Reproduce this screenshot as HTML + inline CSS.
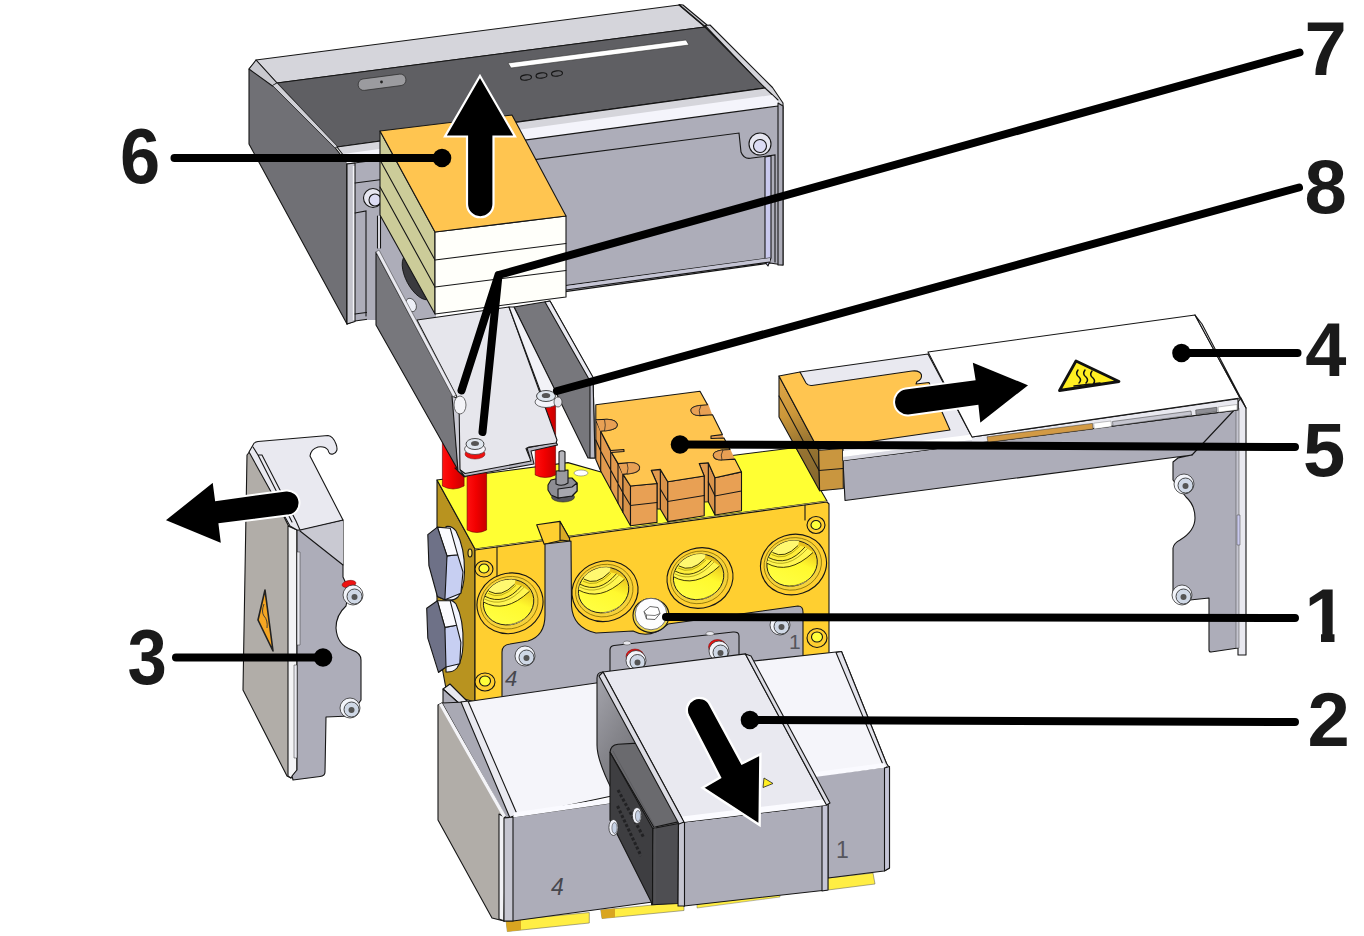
<!DOCTYPE html>
<html lang="en">
<head>
<meta charset="utf-8">
<title>Exploded view</title>
<style>
html,body{margin:0;padding:0;background:#fff;}
body{width:1364px;height:936px;overflow:hidden;}
svg{display:block;}
.o{stroke:#161616;stroke-width:1.1;stroke-linejoin:round;}
.l{fill:none;stroke:#161616;stroke-width:1.1;stroke-linecap:round;}
.lead{fill:none;stroke:#000;stroke-width:8;stroke-linecap:round;stroke-linejoin:round;}
.num{font-family:"Liberation Sans",sans-serif;font-weight:bold;font-size:76px;fill:#1a1a1a;}
.sm{font-family:"Liberation Sans",sans-serif;font-size:17px;fill:#55555c;}
</style>
</head>
<body>
<svg width="1364" height="936" viewBox="0 0 1364 936">
<rect width="1364" height="936" fill="#fff"/>
<g id="topbox">
<!-- left face -->
<polygon class="o" fill="#707075" points="249,69 256,61 272.5,85 335,147.5 347,163 347,324 249,144"/>
<!-- top bevel light -->
<polygon class="o" fill="#d5d5db" points="256,60 679,5 705,27 277,83"/>
<polygon class="o" fill="#c9c9cf" points="249,69 256,60 277,83 272.5,86"/>
<!-- right rim -->
<polygon class="o" fill="#c9c9cf" points="679,4.5 683,5 707,25 705,26.5"/>
<polygon class="o" fill="#d5d5db" points="705,25.5 710,25 772.5,87.5 783,103 783,108 778,104 765,88.5"/>
<!-- dark top -->
<polygon class="o" fill="#5f5f63" points="277,83 705,27 765,88 337,147"/>
<polygon fill="#d0d0d6" stroke="#222" stroke-width="0.7" points="272.5,85.5 277,83 337.5,146.5 335,148"/>
<!-- band under dark top -->
<polygon class="o" fill="#d5d5db" points="337,147 765,88 778,100 347,160"/>
<polygon fill="#f4f4fb" stroke="none" points="343,154 772,95 778,101 778,106 347,164"/>
<!-- front face -->
<polygon class="o" fill="#adadb9" points="347,164 778,106 783,108 783,265 770,263 355,321 347,324"/>
<polygon class="o" fill="#c4c4cc" points="347,164 355,163 355,321.5 347,324"/>
<path d="M353.5,166 L353.5,320" stroke="#f4f4f8" stroke-width="1.4" fill="none"/>
<polygon class="o" fill="#adadb9" points="778,103 783,106 783,265 778,265"/>
<!-- inner panel -->
<path class="l" d="M355,183 L739,133 L741,152 Q744,160 752,158 L775,155 L775,262"/>
<polygon class="o" fill="#c9c9ee" points="765,157 771,156 771,258 768,266 765,262"/>
<path class="l" d="M355,314 L770,258"/>
<polygon fill="#c4c4d4" stroke="none" points="566,286 770,258 770,262 566,290"/>
<path class="l" d="M566,290 L770,262"/>
<!-- bolt right -->
<circle class="o" cx="760" cy="144" r="11" fill="#e6e6f0"/>
<circle class="o" cx="760" cy="146" r="6.5" fill="#dcdcf4"/>
<!-- slot and holes on top -->
<polygon fill="#fff" stroke="#333" stroke-width="0.6" points="508,63 686,40 689,45 511,68"/>
<ellipse class="l" cx="526" cy="77.5" rx="5.5" ry="2.6" transform="rotate(-7 526 77.5)"/>
<ellipse class="l" cx="541.5" cy="75.5" rx="5.5" ry="2.6" transform="rotate(-7 541.5 75.5)"/>
<ellipse class="l" cx="557" cy="73.5" rx="5.5" ry="2.6" transform="rotate(-7 557 73.5)"/>
<rect x="358" y="76.5" width="48" height="11.5" rx="5.5" fill="#9b9b9f" stroke="#2a2a2a" stroke-width="0.7" transform="rotate(-7.5 382 82)"/>
<circle cx="381.5" cy="82" r="1.4" fill="#222"/>
<!-- left inner area behind stack -->
<circle class="o" cx="373" cy="198" r="9.5" fill="#e6e6f0"/>
<circle class="o" cx="375" cy="200" r="6" fill="#dcdcf4"/>
<path class="l" d="M355,213 L366,211 L366,316"/>
<!-- area behind/under stack -->
<polygon fill="#adadb9" stroke="none" points="367,212 380,212 436,300 436,317.5 417,320 367,320"/>
<ellipse cx="418" cy="277" rx="12" ry="25" fill="#3a3a3e" stroke="#111" stroke-width="0.8" transform="rotate(-28 418 277)"/>
<path d="M379,216 L379,248" stroke="#e0e0e8" stroke-width="2.5" fill="none"/><path class="l" d="M377.5,216 L377.5,248 M380.5,216 L380.5,248"/>
<ellipse cx="411" cy="305" rx="5" ry="7" fill="#eef0f8" stroke="#333" stroke-width="0.7" transform="rotate(-25 411 305)"/>
</g>
<g id="yellow">
<!-- left face -->
<polygon class="o" fill="#b8931f" points="437,480 475,549 475,702 447,694 437,640"/>
<!-- top face -->
<polygon class="o" fill="#ffff33" points="437,480 568,462.6 601,472 796,447.5 827,501 475,549"/>
<polygon fill="#ffe98a" stroke="none" points="475,549 827,501 827,503 475,552"/>
<!-- front face -->
<polygon class="o" fill="#ffcf30" points="475,550 827,502 829,504 829,655 475,702"/>
<path class="l" d="M497,547 L497,575 Q497,585 490,590 M805,505 L805,520"/>
<!-- slot in top -->
<polygon class="o" fill="#ffcf30" points="536.7,524.7 560,521.4 569.6,538.5 544.2,544.2"/>
<polygon class="o" fill="#d9ab25" points="560,521.4 560,540 569.6,541 569.6,538.5"/>
<!-- gray plate -->
<path class="o" fill="#adadb9" d="M545,544 L571,541 L571.5,606 Q573,628 596,633 L633,631 Q650,640 668,624 L798,606 Q803,606 803,612 L803,660 L502,702 L502,652 Q502,645 510,644 L528,641 Q545,636 545,615 Z"/>
<!-- holes -->
<defs>
<linearGradient id="hg" x1="0.1" y1="0.9" x2="0.9" y2="0.1"><stop offset="0" stop-color="#ffff44"/><stop offset="0.55" stop-color="#fff92e"/><stop offset="0.85" stop-color="#ecc81f"/><stop offset="1" stop-color="#d9ae1a"/></linearGradient>
<clipPath id="hc"><ellipse cx="-1" cy="-1.5" rx="25.5" ry="22.5" transform="rotate(-18)"/></clipPath>
<g id="hole">
<ellipse class="o" cx="0" cy="0" rx="33.3" ry="30" fill="#ffcf30" transform="rotate(-18)"/>
<ellipse cx="-0.5" cy="-0.8" rx="29" ry="26" fill="#f5d23a" stroke="#7a6400" stroke-width="0.7" transform="rotate(-18)"/>
<ellipse cx="-1" cy="-1.5" rx="25.5" ry="22.5" fill="url(#hg)" stroke="#1c1c1c" stroke-width="0.9" transform="rotate(-18)"/>
<g clip-path="url(#hc)">
<path d="M-30,8 Q-26,22 -6,22 Q14,21 26,4 Q20,18 2,24 Q-20,28 -30,8 Z" fill="#fffde0" stroke="#7a6400" stroke-width="0.5"/>
<path d="M-21,-12 Q-9,-5 4.6,-19 L6,-26 L-20,-24 Z" fill="#fff870" stroke="none"/>
<path d="M-25,-7 Q-6,3 11.5,-17.5 L4.6,-19 Q-9,-5 -21,-12 Z" fill="#ffee3a" stroke="none"/>
<path d="M-27,-1.5 Q-5,11 19.5,-12 L11.5,-17.5 Q-6,3 -25,-7 Z" fill="#fff650" stroke="none"/>
<path fill="none" stroke="#2a2500" stroke-width="0.9" d="M-21,-12 Q-9,-5 4.6,-19 M-25,-7 Q-6,3 11.5,-17.5 M-27,-1.5 Q-5,11 19.5,-12"/>
<path fill="none" stroke="#8a7a00" stroke-width="0.6" d="M-22,-10 Q-9,-2.5 6,-18 M-26,-4.5 Q-6,6 14,-16"/>
</g>
</g></defs>
<use href="#hole" x="510" y="603.3"/>
<use href="#hole" x="605" y="591.2"/>
<use href="#hole" x="700" y="578"/>
<use href="#hole" x="793.5" y="564.5"/>
<!-- small circles -->
<g>
<ellipse class="o" cx="484" cy="569" rx="9" ry="8" fill="#ffcf30"/><ellipse class="o" cx="484" cy="568.5" rx="5" ry="4.5" fill="#ffff3a"/>
<ellipse class="o" cx="485" cy="682" rx="10" ry="9" fill="#ffcf30"/><ellipse class="o" cx="485" cy="681" rx="5.5" ry="5" fill="#ffff3a"/>
<ellipse class="o" cx="816" cy="525" rx="9" ry="8.5" fill="#ffcf30"/><ellipse class="o" cx="816" cy="525" rx="5" ry="4.5" fill="#ffff3a"/>
<ellipse class="o" cx="817" cy="638" rx="10" ry="9.5" fill="#ffcf30"/><ellipse class="o" cx="817" cy="637" rx="5.5" ry="5" fill="#ffff3a"/>
<ellipse class="o" cx="470" cy="553" rx="2" ry="4" fill="#ffe060"/>
</g>
<!-- bolt 1 -->
<ellipse class="o" cx="651" cy="615.5" rx="18" ry="17" fill="#f2d84a"/>
<circle cx="651" cy="614" r="15.8" fill="#fdfdfe" stroke="#555" stroke-width="0.8"/>
<polygon fill="#fff" stroke="#444" stroke-width="0.8" points="644,611.5 650,606.5 658,607.5 660,613.5 655,619.5 646.5,619"/>
<path fill="none" stroke="#444" stroke-width="0.7" d="M644,611.5 L646.5,615 L655,615.5 L660,613.5 M646.5,615 L646.5,619"/>
<!-- screws on plate -->
<defs><g id="scr"><circle cx="0" cy="0" r="10" fill="#f2f4fa" stroke="#333" stroke-width="0.8"/><circle cx="1.5" cy="1.5" r="7.5" fill="#cfd8e6" stroke="#222" stroke-width="0.8"/><circle cx="1.5" cy="2" r="3" fill="#555"/></g></defs>
<use href="#scr" x="525" y="656"/>
<use href="#scr" x="780" y="625"/>
<!-- small bracket with screws -->
<path class="o" fill="#adadb9" d="M610,676 L610,650 Q610,646 614,645.5 L733,632 Q739,631.5 739,636 L739,660 Z"/>
<ellipse cx="635" cy="656.5" rx="9" ry="7.5" fill="#ee1111" stroke="#700" stroke-width="0.5"/>
<ellipse cx="717.5" cy="647" rx="9" ry="7.5" fill="#ee1111" stroke="#700" stroke-width="0.5"/>
<use href="#scr" x="636" y="660.5"/>
<use href="#scr" x="719" y="651"/>
<ellipse cx="627" cy="643" rx="4" ry="2" fill="#e8e8ee" stroke="#444" stroke-width="0.5"/>
<ellipse cx="710" cy="633.5" rx="4" ry="2" fill="#e8e8ee" stroke="#444" stroke-width="0.5"/>
<text x="505" y="686" font-family="'Liberation Sans',sans-serif" font-style="italic" font-size="22" fill="#47474d">4</text>
<text x="789" y="649" font-family="'Liberation Sans',sans-serif" font-size="21" fill="#55555c">1</text>
<!-- hex plugs on left -->
<g>
<path class="o" fill="#f2f4fd" d="M446,526.5 Q452,525.5 456,531 Q465,548 464.5,572 Q464,590 458,597 Q454,601 447,600 Z"/>
<path class="o" fill="#f2f4fd" d="M446,600 Q452,599 456,604 Q464,620 463,645 Q462.5,660 457,668 Q453,672.5 446,672 Z"/>
<polygon class="o" fill="#c7cff2" points="447,555.9 457.7,554.8 463,572 460.9,593.3 444.9,599.7 437.4,596.5"/>
<polygon class="o" fill="#fbfbff" points="437.4,527.1 450.2,528.2 457.7,554.8 447,555.9"/>
<polygon class="o" fill="#6e7187" points="427.8,534.6 437.4,527.1 447,555.9 444.9,599.7 437.4,596.5 428.9,565.5"/>
<polygon class="o" fill="#c7cff2" points="444.9,627.4 456.6,625.3 460.9,642.4 459.8,663.7 446,667 438.5,672.3"/>
<polygon class="o" fill="#fbfbff" points="437.4,600.8 450.2,600.8 456.6,625.3 444.9,627.4"/>
<polygon class="o" fill="#6e7187" points="426.7,608.2 437.4,600.8 444.9,627.4 446,667 438.5,672.3 427.8,638.1"/>
</g>
<!-- gray bolt on top -->
<g>
<ellipse cx="581" cy="473" rx="7" ry="3" fill="#fff" stroke="#777" stroke-width="0.6"/>
<ellipse cx="563" cy="497" rx="11.5" ry="5" fill="#55555a" stroke="#222" stroke-width="0.6"/>
<polygon class="o" fill="#8d8d93" points="548,485 551,480 560,478 572,478 577,483 577,491 572,496 558,498 551,495 548,490"/>
<polygon class="o" fill="#a7a7ae" points="558,489 572,487 577,483 577,491 572,496 558,498"/>
<path class="o" fill="#9a9aa0" d="M556,471 L568,470 L568,483 Q562,487 556,484 Z"/>
<path class="o" fill="#b5b5bb" d="M559,452 Q562,449.5 565,452 L565,471 L559,471 Z"/>
</g>
</g>
<g id="part5">
<!-- left side faces -->
<polygon class="o" fill="#e29a4e" points="595.8,419.7 600.7,431.3 610.7,451.2 618,463.6 623,474.4 623,512.5 610.7,489.5 600.7,471 595.8,459.5"/>
<path class="l" d="M595.8,440 L600.7,451 L610.7,470 L623,493 M600.7,431.3 L600.7,471 M610.7,451.2 L610.7,489.5 M618,463.6 L618,503"/>
<!-- tooth left sides -->
<polygon class="o" fill="#d9934a" points="623,474.4 630.5,486 630.5,525.7 623,512.5"/>
<polygon class="o" fill="#d9934a" points="660.3,469.4 667.8,481.8 667.8,521.6 660.3,509"/>
<polygon class="o" fill="#d9934a" points="708.3,462.8 715,477.7 715,515 708.3,501.7"/>
<polygon class="o" fill="#e29a4e" points="651.2,470.2 660.3,469.4 660.3,509 657,509 657,483.5"/>
<polygon class="o" fill="#e29a4e" points="699.2,463.6 708.3,462.8 708.3,501.7 704.2,502 704.2,476"/>
<!-- front teeth -->
<polygon class="o" fill="#e8a054" points="630.5,486 657,483.5 657,522.4 630.5,525.7"/>
<polygon class="o" fill="#e8a054" points="667.8,481.8 704.2,476 704.2,515.8 667.8,521.6"/>
<polygon class="o" fill="#e8a054" points="715,477.7 741.5,471.9 741.5,510.8 715,515"/>
<path class="l" d="M623,493 L630.5,505.5 L657,502.5 M660.3,489 L667.8,501.5 L704.2,495.5 M708.3,482 L715,496 L741.5,491"/>
<!-- notch backing -->
<g fill="#e8a054" stroke="none">
<polygon points="595.8,419 618,418 618,431.5 600.7,432"/>
<polygon points="618,462.5 640,461 640,474 623,475"/>
<polygon points="690,404.5 708,403.5 712.5,415.5 690,416.5"/>
<polygon points="712.5,449.5 730,448.5 735,459.5 712.5,460.5"/>
<polygon points="610.7,449.3 624,448.3 624,452 611.5,453"/>
<polygon points="710.5,435.5 722.4,434.5 724,438.5 710.5,439"/>
</g>
<!-- top face -->
<path class="o" fill="#ffc550" d="M595.8,404.8 L700,391.3 L707.5,404.8 L699,405.5 Q690,407 691,411 Q692,415.5 700,415.6 L712.5,414.8 L722.4,434.6 L711,436 L711,438.5 L724,438 L729.9,449.5 L722,450 Q713,451.5 713.3,455.3 Q714,460 722,460 L734.8,459.1 L741.5,471.9 L715,477.7 L708.3,462.8 L699.2,463.6 L704.2,476 L667.8,481.8 L660.3,469.4 L651.2,470.2 L657,483.5 L630.5,486 L623.1,474.4 L631,473.5 Q640,472 639.6,467 Q638,462.5 630,462.6 L618.1,463.6 L611.5,452.5 L624,451.5 L623.9,449.5 L610.7,450.5 L600.7,431.3 L608,430.5 Q617.5,429 617.3,424.5 Q616,419.5 607,419.3 L595.8,419.7 Z"/>
<!-- notch inner walls -->
<path fill="#e8a054" stroke="#1c1c1c" stroke-width="0.7" d="M699,405.5 Q690,407 691,411 Q692,415.5 700,415.6 Q698,410.5 701,405.4 Z"/>
<path fill="#e8a054" stroke="#1c1c1c" stroke-width="0.7" d="M722,450 Q713,451.5 713.3,455.3 Q714,460 722,460 Q720,455 723,450 Z"/>
<path fill="#e8a054" stroke="#1c1c1c" stroke-width="0.7" d="M631,473.5 Q640,472 639.6,467 Q638,462.5 630,462.6 L627,462.8 Q629,468 627,474 Z"/>
<path fill="#e8a054" stroke="#1c1c1c" stroke-width="0.7" d="M608,430.5 Q617.5,429 617.3,424.5 Q616,419.5 607,419.3 L604.5,419.4 Q606,425 604.5,431 Z"/>
</g>
<g id="bracket">
<!-- right wall -->
<polygon class="o" fill="#77777c" points="514,307 550,301 593,378 595,458 588,458"/>
<polygon class="o" fill="#b9b9c4" points="590,380 593,378 595,458 590,458"/>
<polygon class="o" fill="#e9e9f0" points="545,302 550,301 594,379 590,381"/>
<!-- red posts -->
<defs><linearGradient id="rg" x1="0" x2="1" y1="0" y2="0"><stop offset="0" stop-color="#ff1010"/><stop offset="0.45" stop-color="#f20000"/><stop offset="1" stop-color="#c80000"/></linearGradient></defs>
<path d="M442.4,440 L464.1,440 L464.1,486 Q453,492 442.4,486 Z" fill="url(#rg)" stroke="#600" stroke-width="0.6"/>
<path d="M467.1,455 L486.6,455 L486.6,530 Q477,535 467.1,530 Z" fill="url(#rg)" stroke="#600" stroke-width="0.6"/>
<path d="M535.2,400 L555.6,400 L555.6,475 Q545,480 535.2,475 Z" fill="url(#rg)" stroke="#600" stroke-width="0.6"/>
<!-- floor -->
<polygon class="o" fill="#b9b9c4" points="458,470 466,470 530,458 527,448 556,442 557.5,445 531,451 534,464 464,476.5 455,468"/>
<polygon class="o" fill="#e6e6ec" points="417,320 509,307 557,440 556,443 529,447 526,448.5 531,461 465,473.5 459,469 457,397"/>
<polygon class="o" fill="#f2f2f7" points="509,307 514,307 556,392 552,397 541,393"/>
<!-- left wall -->
<polygon class="o" fill="#77777c" points="376,252 453,396 458,470 376,325"/>
<polygon class="o" fill="#c9c9d2" points="452,396 459,399 460,470 465,477 458,471"/>
<polygon fill="#e9e9f0" stroke="#333" stroke-width="0.5" points="376,252 379,250 456,395 453,397"/>
<!-- screws -->
<g>
<ellipse cx="460" cy="405" rx="6" ry="9" fill="#f4f4f8" stroke="#333" stroke-width="0.7"/>
<ellipse cx="475" cy="454" rx="10" ry="5" fill="#ee1111" stroke="#700" stroke-width="0.5"/>
<ellipse cx="475" cy="449" rx="10.5" ry="5.5" fill="#f4f4fa" stroke="#333" stroke-width="0.7"/>
<ellipse cx="475" cy="444" rx="9" ry="5.5" fill="#dfe6ee" stroke="#222" stroke-width="0.8"/>
<ellipse cx="475" cy="443.5" rx="4" ry="2.5" fill="#555"/>
<ellipse cx="546" cy="402" rx="11" ry="5.5" fill="#f4f4fa" stroke="#333" stroke-width="0.7"/>
<ellipse cx="546" cy="396" rx="9.5" ry="5.5" fill="#dfe6ee" stroke="#222" stroke-width="0.8"/>
<ellipse cx="546" cy="395.5" rx="4.2" ry="2.6" fill="#555"/>
<ellipse cx="558" cy="402" rx="4" ry="5" fill="#e6e6ec" stroke="#333" stroke-width="0.7"/>
</g>
</g>
<g id="stack6">
<!-- olive side -->
<polygon class="o" fill="#cccc99" points="380,131 435,232 435,314 380,215"/>
<path class="l" d="M380,160 L435,260 M380,187 L435,287"/>
<!-- cream front -->
<polygon class="o" fill="#fffffa" points="435,232 566,216 566,297 435,314"/>
<path class="l" d="M435,260 L566,243.5 M435,287 L566,270.5"/>
<!-- orange top -->
<polygon class="o" fill="#ffc550" points="380,131 512,115 566,216 435,232"/>
</g>
<g id="part4">
<!-- leg + rail front (gray) -->
<path class="o" fill="#adadb9" d="M843,460.5 L1238,410 L1238,648 L1211,652 Q1209,652 1209,650 L1209,598 L1190,600 L1173,592 L1173,548 Q1174,543 1180,540 Q1195,531 1195,518 Q1195,505 1186,497 L1173,480 L1173,462 L1178,458 L1192,455 L845,500.5 Z"/>
<path class="l" d="M1192,455 L1238,406"/>
<!-- right edge strip -->
<polygon class="o" fill="#e9e9f0" points="1238,402 1241,398 1246,408 1246,655 1238,655 1238,648"/>
<polygon fill="#c5c5d0" stroke="#444" stroke-width="0.5" points="1236,410 1239,408 1239,648 1236,648"/>
<polygon fill="#c9c9ee" stroke="#444" stroke-width="0.5" points="1237,515 1240,515 1240,545 1237,545"/>
<!-- slab side -->
<defs><linearGradient id="sg" gradientUnits="userSpaceOnUse" x1="779" y1="385" x2="819" y2="480"><stop offset="0" stop-color="#dca445"/><stop offset="0.3" stop-color="#cc973a"/><stop offset="0.6" stop-color="#9a7632"/><stop offset="1" stop-color="#86682e"/></linearGradient></defs>
<polygon class="o" fill="url(#sg)" points="779,376 818.7,450.2 819.6,490.7 779,417"/>
<polygon class="o" fill="#c9963f" points="818.7,450.2 843,448.5 843.3,488.5 819.6,490.7"/>
<path class="l" d="M779,396 L819,470.5 L843,468.5 M790,374.5 L829,447"/>
<!-- rail top (light) -->
<polygon class="o" fill="#e9e9f0" points="800,372 928,354 972,437 1238,398.8 1238,410 843,460.5 843,447 818,449"/>
<polygon fill="#ffffff" stroke="none" points="843,451 972,434.5 972,440 843,457"/>
<polygon fill="#d8d8e0" stroke="none" points="843,457 972,440 972,444 843,460.5"/>
<polygon fill="#d29a45" stroke="#333" stroke-width="0.5" points="987,436.8 1092.5,423.4 1093,429 988,442.3"/>
<polygon fill="#ffffff" stroke="#666" stroke-width="0.4" points="1093.7,423.2 1111,421 1111.5,426.6 1094.2,429"/>
<polygon fill="#c6c6d0" stroke="#333" stroke-width="0.5" points="1112.5,421.5 1191,411 1191.5,415 1113,426"/>
<polygon fill="#8e8e94" stroke="#333" stroke-width="0.5" points="1195.7,410 1216.8,407.3 1217,411.6 1196,414.6"/>
<polygon fill="#ffffff" stroke="#666" stroke-width="0.4" points="1218,407 1237,404.5 1237,409.8 1218.5,412.2"/>
<!-- orange top -->
<path class="o" fill="#ffc550" d="M779,376 L800,372 L806,383 Q808,386 812,385.5 L912,371 Q920,370 921.5,375 Q922,380 917,381.5 L916,384 L929,382.5 L950,430 L818,449 Z"/>
<!-- white cover -->
<polygon class="o" fill="#ffffff" points="928,352 1195,315 1240,398 972,437"/>
<polygon class="o" fill="#f3f3f8" points="1195,315 1202,324 1246,408 1240,398"/>
<!-- warning triangle -->
<polygon fill="#ffee22" stroke="#111" stroke-width="2.8" stroke-linejoin="round" points="1076,361 1119,381.5 1059.5,390.5"/>
<path fill="none" stroke="#111" stroke-width="1.5" stroke-linecap="round" d="M1078,370 q-3,4 1,7 q3,3 0,6 M1085,370 q-3,4 1,7 q3,3 0,6 M1092,371 q-3,4 1,7 q3,3 0,6 M1074,386 L1100,383"/>
<!-- bolts on leg -->
<use href="#scr" x="1184" y="484"/>
<use href="#scr" x="1182" y="595"/>
</g>
<g id="part3">
<!-- left face beige -->
<polygon class="o" fill="#b1ada8" points="247,455 251,450 291,531 291,778 287,776 243,690"/>
<!-- white strip -->
<polygon class="o" fill="#f4f4f6" points="288,526 297,530 297,770 291,778 288,776"/>
<!-- front face -->
<path class="o" fill="#adadb9" d="M297,530 L343,520 L343,577 L349,590 L346,606 Q336,615 336,628 Q337,645 352,650 Q361,653 361,660 L361,700 L350,716 L326,717 L325,772 Q325,776 320,776.5 L293,780 L292,776 L297,770 Z"/>
<polygon fill="#c9c9d2" stroke="none" points="300,531 343,521 343,565"/>
<path class="l" d="M300,531 L343,565"/>
<polygon fill="#e9e9f0" stroke="#333" stroke-width="0.5" points="297,552 300,552 300,645 297,645"/>
<polygon fill="#e9e9f0" stroke="#333" stroke-width="0.5" points="294,665 297,665 297,758 294,758"/>
<!-- top light -->
<path class="o" fill="#e9e9f0" d="M253,445 Q254,442 258,441.5 L328,435.5 Q333,436 336,444 Q339,452 333,454 Q329,455 328,450 Q325,446 318,447 Q311,449 310,456 L343,520 L300,530 L297,530 L290,526 L249,452 Z"/>
<path class="l" d="M253,447 L258,455 L262,455 L296,521 L300,530 M258,455 L292,522"/>
<!-- warning diamond -->
<polygon fill="#f5a623" stroke="#222" stroke-width="1.6" stroke-linejoin="round" points="265,590 273,651 258,620"/>
<path fill="none" stroke="#333" stroke-width="0.9" d="M264,604 q-3,8 0,12 q4,4 3,12"/>
<!-- screws -->
<ellipse cx="349" cy="584" rx="7" ry="3.5" fill="#ee1111" stroke="#700" stroke-width="0.5" transform="rotate(-10 349 584)"/>
<use href="#scr" x="353" y="595"/>
<use href="#scr" x="350" y="708"/>
</g>
<g id="part2">
<defs>
<linearGradient id="mlf" x1="0" y1="0" x2="0.6" y2="1"><stop offset="0" stop-color="#a6a6ae"/><stop offset="0.3" stop-color="#85858b"/><stop offset="0.6" stop-color="#6c6c71"/><stop offset="1" stop-color="#66666a"/></linearGradient>
</defs>
<!-- yellow feet -->
<polygon fill="#ffee44" stroke="#555" stroke-width="0.5" points="506,920.5 589.3,912.5 589.3,923 507.3,931.5"/>
<polygon fill="#d9a520" points="506,920.5 521,919 521,930 507.3,931.5"/>
<polygon fill="#ffee44" stroke="#555" stroke-width="0.5" points="600.8,910 684,902 684,910.5 602,918.5"/>
<polygon fill="#d9a520" points="600.8,910 615,908.6 615,917.2 602,918.5"/>
<polygon fill="#ffee44" stroke="#555" stroke-width="0.4" points="697,904 780,893 780,897 697,908"/>
<polygon fill="#ffee44" stroke="#555" stroke-width="0.5" points="828,878 873,873 875,884 828,890"/>
<!-- left small back piece -->
<polygon class="o" fill="#e9e9f0" points="443,689 450,684 470,704 462,706"/>
<polygon class="o" fill="#adadb9" points="443,689 462,706 465,716 443,705"/>
<!-- left beige face -->
<polygon class="o" fill="#b1ada8" points="438,705 442,703 506,816 504,921 492,918 438,820"/>
<polygon class="o" fill="#f1f1f5" points="499,814 504.5,817 504.5,921 499,919"/>
<!-- top-left white face -->
<polygon class="o" fill="#f5f5fa" points="465,702 603,682 640,790 513,817"/>
<polygon class="o" fill="#a9a9b4" points="442,703 465,702 513,817 506,818"/>
<polygon fill="#f4f4f8" stroke="none" points="439,704.5 442,703 506,816 503,817.5"/>
<polygon class="o" fill="#e9e9f0" points="461,702 468,701 517,814 510,818"/>
<!-- front-left face -->
<polygon class="o" fill="#adadb9" points="506,818 513,817 660,796 660,901 513,921 504,921"/>
<polygon fill="#fafaff" stroke="none" points="514,812.5 640,794 640,799 513,817.5"/>
<polygon class="o" fill="#c5c5d0" points="504,818 513,817 513,921 504,921"/>
<!-- right white face -->
<polygon class="o" fill="#f5f5fa" points="745,662 836,652 841.5,651.5 886.5,763.5 889,768 812,776"/>
<polygon class="o" fill="#e4e4ec" points="836,652.5 841.5,651.5 886.5,763.5 889.5,768 884,767"/>
<!-- right front face -->
<polygon class="o" fill="#adadb9" points="812,776 886,767 889.5,768 889.5,868 884,871 828,878 828,805"/>
<polygon fill="#fafaff" stroke="none" points="812,772.5 884,763 886.5,767.5 815,777"/>
<polygon class="o" fill="#c5c5d6" points="884.5,768 889.5,766.5 889.5,868 884.5,871"/>
<!-- middle box left face -->
<path class="o" fill="url(#mlf)" d="M597,678 Q597,672 603,672 L684,822 L684,906 L660,880 L612,790 Q597,760 597,745 Z"/>
<!-- dark connector -->
<path class="o" fill="#6a6a6e" d="M610,752.3 Q610.5,745 618,744.2 L637.7,743.1 L679.3,821.6 L653.9,827.3 Z"/>
<polygon class="o" fill="#4e4e52" points="652.7,828.5 678.5,823.5 678,903.5 651.6,904.7"/>
<polygon class="o" fill="#3e3e41" points="610,752.3 652.7,828.5 652.5,904.5 610,820"/>
<path fill="none" stroke="#5a5a5e" stroke-width="0.8" d="M613,751 L655,827 L655,904"/>
<path fill="none" stroke="#222224" stroke-width="3" stroke-dasharray="3 2" d="M618,790 L644,838 M617.5,806 L641,856"/>
<ellipse cx="637" cy="815.5" rx="4.6" ry="8" fill="#f0f2fa" stroke="#222" stroke-width="0.7"/><ellipse cx="638" cy="816" rx="2.6" ry="5.5" fill="#c5d0e4" stroke="#333" stroke-width="0.5"/>
<ellipse cx="613.5" cy="827.5" rx="4.6" ry="8" fill="#f0f2fa" stroke="#222" stroke-width="0.7"/><ellipse cx="614.5" cy="828" rx="2.6" ry="5.5" fill="#c5d0e4" stroke="#333" stroke-width="0.5"/>
<!-- middle box front -->
<polygon class="o" fill="#adadb9" points="684,822 827,805 827,890 684,906"/>
<polygon class="o" fill="#c5c5d0" points="678.5,823 684.5,822 684.5,906 678,906"/>
<polygon class="o" fill="#c5c5d6" points="822,806 828,804 828,890 822,891"/>
<!-- middle box top -->
<polygon class="o" fill="#e9e9f0" points="603,672 745.4,653.9 826.5,805 684,822"/>
<polygon fill="#fbfbff" stroke="none" points="682,816.5 823,799.5 826.5,805 684,822"/>
<polygon class="o" fill="#dcdce4" points="745.4,653.9 751,656 830,803 826.5,805"/>
<polygon class="o" fill="#dcdce4" points="599,676 603,672 684,822 679,824"/>
<polygon fill="#ffee22" stroke="#222" stroke-width="0.8" points="764,778 773,783.5 763,787.5"/>
<text x="551" y="895" font-family="'Liberation Sans',sans-serif" font-style="italic" font-size="23" fill="#47474d">4</text>
<text x="836" y="858" font-family="'Liberation Sans',sans-serif" font-size="23" fill="#55555c">1</text>
</g>
<g id="arrows">
<!-- up arrow -->
<path d="M480,76 L515,136.5 L493.5,136.5 L493.5,204 A13.2,13.2 0 0 1 467,204 L467,136.5 L445,136.5 Z" fill="#000" stroke="#fff" stroke-width="2.2" stroke-linejoin="miter"/>
<!-- right arrow -->
<path d="M905.5,388.5 L974.5,379.5 L971.5,361 L1030,385 L979.5,424.5 L977.5,406 L908.5,415.5 A13.6,13.6 0 0 1 905.5,388.5 Z" fill="#000" stroke="#fff" stroke-width="2" stroke-linejoin="miter"/>
<!-- left arrow -->
<path d="M164,520.5 L213.5,481 L216,500 L286,490.5 A12.5,12.5 0 0 1 289,515.3 L219.5,524 L222,544.5 Z" fill="#000" stroke="#fff" stroke-width="2" stroke-linejoin="miter"/>
<!-- down arrow -->
<path d="M688,715.5 A12.3,12.3 0 0 1 710,704.5 L742,763.5 L760.4,754.3 L759.6,825 L702.5,787.7 L720,777.5 Z" fill="#000" stroke="#fff" stroke-width="2.4" stroke-linejoin="miter"/>
</g>
<g id="labels">
<path class="lead" d="M174.5,158 L442,158"/><circle cx="442" cy="158" r="9.3"/>
<path class="lead" d="M1299.5,52.5 L498.5,275 L461.5,390.5 M498.5,275 L482.5,432"/>
<path class="lead" d="M1299,187.5 L557,391"/>
<path class="lead" d="M1297.5,353 L1181.5,353"/><circle cx="1181.5" cy="353" r="9.3"/>
<path class="lead" d="M1295,447 L680,444.5"/><circle cx="680" cy="444.5" r="9.3"/>
<path class="lead" d="M1295,618 L666,617"/>
<path class="lead" d="M1295,722 L750,720"/><circle cx="750" cy="720" r="9.3"/>
<path class="lead" d="M176,657.5 L323,657.5"/><circle cx="323" cy="657.5" r="9.3"/>
<text class="num" transform="translate(119.9,183.2) scale(0.95,1.015)">6</text>
<text class="num" x="1304.5" y="75">7</text>
<text class="num" x="1304.5" y="213">8</text>
<text class="num" transform="translate(1305.3,376.3) scale(0.975,1.005)">4</text>
<text class="num" x="1303" y="476">5</text>
<clipPath id="c1"><path d="M1300,580 H1364 V633 H1334.5 V650 H1321 V633 H1300 Z"/></clipPath>
<text class="num" x="1304.5" y="642" clip-path="url(#c1)">1</text>
<text class="num" x="1307.5" y="746">2</text>
<text class="num" transform="translate(127.5,684) scale(0.93,1.02)">3</text>
</g>
</svg>
</body>
</html>
